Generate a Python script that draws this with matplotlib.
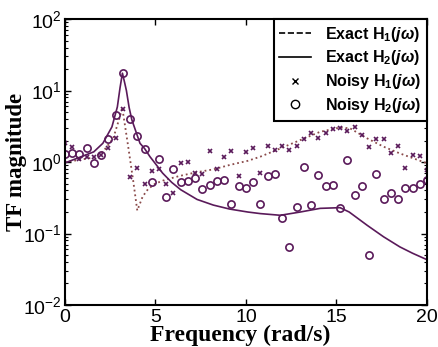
import numpy as np
import matplotlib
matplotlib.use("Agg")
import matplotlib.pyplot as plt
from matplotlib.lines import Line2D
from matplotlib.ticker import LogLocator, NullFormatter

plt.rcParams['mathtext.fontset'] = 'custom'
plt.rcParams['mathtext.rm'] = 'Liberation Sans:bold'
plt.rcParams['mathtext.it'] = 'Liberation Sans:italic:bold'
plt.rcParams['mathtext.bf'] = 'Liberation Sans:bold'
plt.rcParams['font.family'] = ['Liberation Sans', 'DejaVu Sans']

# Noisy samples (frequency in rad/s)
freq_noisy = [0.0, 0.4, 0.8, 1.2, 1.6, 2.0, 2.4, 2.8, 3.2, 3.6, 4.0, 4.4, 4.8, 5.2, 5.6,
              6.0, 6.4, 6.8, 7.2, 7.6, 8.0, 8.4, 8.8, 9.2, 9.6, 10.0, 10.4, 10.8, 11.2,
              11.6, 12.0, 12.4, 12.8, 13.2, 13.6, 14.0, 14.4, 14.8, 15.2, 15.6, 16.0,
              16.4, 16.8, 17.2, 17.6, 18.0, 18.4, 18.8, 19.2, 19.6, 20.0]
noisy_h1 = [1.83, 1.64, 1.09, 1.19, 1.16, 1.25, 1.55, 2.17, 5.46, 0.62, 0.82, 0.50, 0.76,
            0.79, 0.50, 0.37, 0.98, 1.01, 0.71, 0.67, 1.41, 0.79, 1.19, 1.41, 0.64, 1.38,
            1.57, 0.71, 1.68, 1.49, 1.70, 1.47, 1.69, 2.10, 2.52, 2.19, 2.57, 2.90, 2.96,
            2.74, 3.10, 2.39, 1.64, 2.10, 2.07, 1.35, 1.69, 0.83, 1.25, 1.22, 0.77]
noisy_h2 = [1.28, 1.32, 1.28, 1.57, 0.96, 1.24, 2.12, 4.5, 17.4, 3.95, 2.33, 1.50, 0.52,
            1.09, 0.32, 0.79, 0.52, 0.55, 0.60, 0.42, 0.48, 0.55, 0.56, 0.26, 0.46, 0.44,
            0.53, 0.26, 0.64, 0.67, 0.165, 0.064, 0.237, 0.86, 0.25, 0.65, 0.46, 0.48,
            0.23, 1.07, 0.35, 0.46, 0.05, 0.69, 0.30, 0.37, 0.30, 0.44, 0.44, 0.50, 0.56]

# Exact curves
freq_h1 = [0.0, 0.8, 1.6, 2.1, 2.67, 3.04, 3.17, 3.5, 3.77, 4.0, 4.3, 4.6, 5.0, 5.5,
           6.35, 7.28, 8.2, 9.1, 10.1, 10.8, 11.9, 13.0, 14.1, 15.2, 15.75, 16.7, 17.6,
           18.5, 19.4, 20.0]
exact_h1 = [1.0, 1.07, 1.16, 1.39, 2.14, 4.3, 5.8, 1.64, 0.56, 0.21, 0.33, 0.42, 0.50,
            0.56, 0.64, 0.72, 0.79, 0.91, 1.04, 1.19, 1.55, 2.03, 2.65, 3.05, 2.96, 2.14,
            1.64, 1.32, 1.09, 0.96]
freq_h2 = [0.0, 0.8, 1.6, 2.1, 2.6, 2.9, 3.05, 3.18, 3.3, 3.4, 3.55, 3.7, 4.15, 4.4,
           4.7, 5.0, 5.4, 5.9, 6.4, 7.3, 8.2, 9.1, 10.1, 10.8, 11.9, 13.0, 14.1, 15.2,
           15.7, 16.7, 17.6, 18.5, 19.2, 20.0]
exact_h2 = [0.97, 1.16, 1.39, 1.83, 3.1, 5.9, 11.0, 17.5, 13.0, 10.0, 5.8, 3.9, 1.83,
            1.55, 1.19, 0.95, 0.70, 0.52, 0.41, 0.30, 0.25, 0.22, 0.20, 0.19, 0.18, 0.20,
            0.225, 0.23, 0.20, 0.13, 0.09, 0.065, 0.053, 0.043]

purple = '#5a1a5a'
brown = '#8a4a4a'

fig = plt.figure(figsize=(4.38, 3.47), dpi=100)
ax = fig.add_axes([0.148, 0.121, 0.827, 0.824])

ax.plot(freq_h1, exact_h1, linestyle=':', color=brown, lw=1.3)
ax.plot(freq_h2, exact_h2, linestyle='-', color=purple, lw=1.2)
ax.plot(freq_noisy, noisy_h1, linestyle='none', marker='x', color=purple, ms=3.5, mew=1.2)
ax.plot(freq_noisy, noisy_h2, linestyle='none', marker='o', mfc='none', mec=purple,
        ms=5.2, mew=1.2)

ax.set_yscale('log')
ax.set_xlim(0, 20)
ax.set_ylim(1e-2, 1e2)
ax.set_xticks([0, 5, 10, 15, 20])
ax.yaxis.set_major_locator(LogLocator(base=10, numticks=10))
ax.yaxis.set_minor_locator(LogLocator(base=10, subs=np.arange(2, 10), numticks=10))
ax.yaxis.set_minor_formatter(NullFormatter())
ax.tick_params(which='both', direction='in', top=True, right=True, labelsize=14)
ax.tick_params(axis='y', pad=2)
ax.tick_params(axis='x', pad=3)
ax.tick_params(which='major', length=4, width=1)
ax.tick_params(which='minor', length=2.5, width=0.8)
for s in ax.spines.values():
    s.set_linewidth(1.5)

ax.set_xlabel('Frequency (rad/s)', family='Liberation Serif', weight='bold', fontsize=17)
ax.set_ylabel('TF magnitude', family='Liberation Serif', weight='bold', fontsize=16.5)
ax.xaxis.set_label_coords(0.485, -0.068)
ax.yaxis.set_label_coords(-0.105, 0.5)

handles = [
    Line2D([], [], color='black', linestyle='--', lw=1.2),
    Line2D([], [], color='black', linestyle='-', lw=1.2),
    Line2D([], [], color='black', linestyle='none', marker='x', ms=4, mew=1),
    Line2D([], [], color='black', linestyle='none', marker='o', mfc='none', ms=6, mew=1),
]
labels = [r'Exact H$_1$($j\omega$)', r'Exact H$_2$($j\omega$)',
          r'Noisy H$_1$($j\omega$)', r'Noisy H$_2$($j\omega$)']
leg = ax.legend(handles, labels, loc='upper right', borderaxespad=0.0, fancybox=False,
                framealpha=1, edgecolor='black', prop={'weight': 'bold', 'size': 11.5},
                labelspacing=0.3, handlelength=2.0, borderpad=0.35, handletextpad=0.9)
leg.get_frame().set_linewidth(1.5)

fig.savefig('out.png', dpi=100)
